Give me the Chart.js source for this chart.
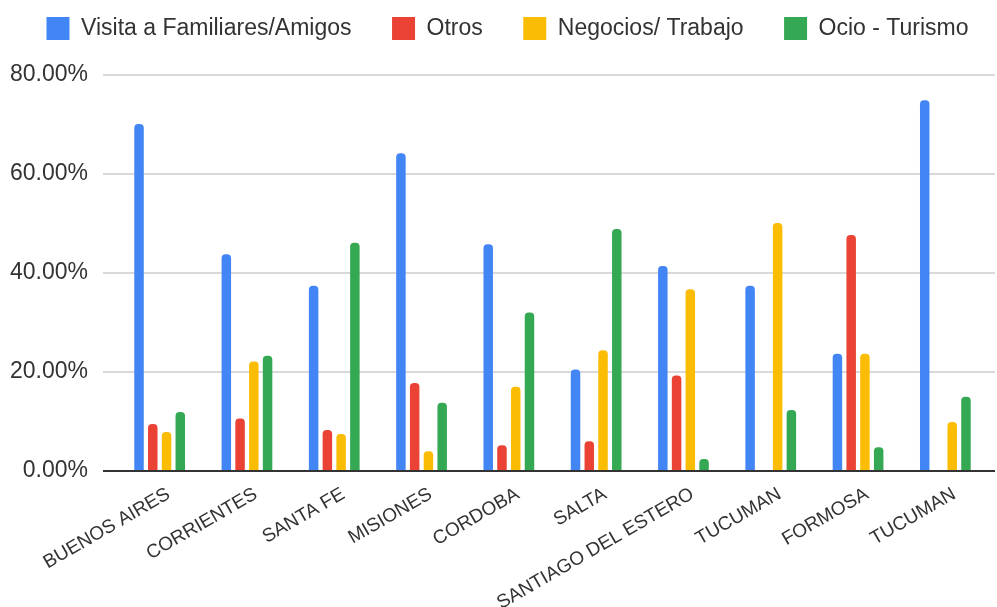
<!DOCTYPE html>
<html>
<head>
<meta charset="utf-8">
<script src="https://cdn.jsdelivr.net/npm/chart.js@4.4.1/dist/chart.umd.min.js"></script>
<style>
    html, body { margin: 0; padding: 0; background: #fff; }
    #wrap { width: 997px; height: 607px; }
</style>
</head>
<body>
<div id="wrap"><canvas id="motivoChart" width="997" height="607"></canvas></div>
<script>
const provincias = ['BUENOS AIRES', 'CORRIENTES', 'SANTA FE', 'MISIONES', 'CORDOBA', 'SALTA', 'SANTIAGO DEL ESTERO', 'TUCUMAN', 'FORMOSA', 'TUCUMAN']
const visitaFamiliares = [70.1, 43.8, 37.4, 64.2, 45.8, 20.5, 41.4, 37.4, 23.7, 74.9]
const otros = [9.5, 10.6, 8.3, 17.8, 5.2, 6.0, 19.3, 0, 47.7, 0]
const negocios = [7.9, 22.1, 7.5, 4.0, 17.0, 24.4, 36.7, 50.1, 23.7, 9.9]
const ocioTurismo = [11.9, 23.3, 46.1, 13.8, 32.0, 48.9, 2.4, 12.3, 4.8, 15.0]
const yTicks = [0, 20, 40, 60, 80]

const FONT = 'Arial, "Liberation Sans", sans-serif'

// horizontal grid lines run a bit wider than the category area
const gridLines = {
    id: 'gridLines',
    beforeDatasetsDraw(chart) {
        const { ctx, chartArea, scales } = chart
        ctx.save()
        ctx.strokeStyle = '#cccccc'
        ctx.lineWidth = 1.5
        yTicks.forEach((v) => {
            if (v === 0) return
            const py = scales.y.getPixelForValue(v)
            ctx.beginPath()
            ctx.moveTo(chartArea.left - 13, py)
            ctx.lineTo(chartArea.right + 6, py)
            ctx.stroke()
        })
        ctx.restore()
    },
    afterDatasetsDraw(chart) {
        const { ctx, chartArea, scales } = chart
        const py = scales.y.getPixelForValue(0)
        ctx.save()
        ctx.strokeStyle = '#333333'
        ctx.lineWidth = 2
        ctx.beginPath()
        ctx.moveTo(chartArea.left - 13, py)
        ctx.lineTo(chartArea.right + 6, py)
        ctx.stroke()
        ctx.restore()
    },
}

// fixed legend height, keep it on one row and widen its box a little
const legendBox = {
    id: 'legendBox',
    beforeInit(chart) {
        const fit = chart.legend.fit
        chart.legend.fit = function () {
            this.maxWidth += 30
            fit.call(this)
            this.height = 95
        }
    },
    afterLayout(chart) {
        chart.legend.left = 5
        chart.legend.right = 1010
        chart.legend.top = -23.5
    },
}

function makeSet(label, values, color) {
    return {
        label: label,
        data: values,
        backgroundColor: color,
        borderRadius: 4,
        borderSkipped: 'start',
        categoryPercentage: 0.63,
        barPercentage: 0.69,
    }
}

const config = {
    type: 'bar',
    data: {
        labels: provincias,
        datasets: [
            makeSet('Visita a Familiares/Amigos', visitaFamiliares, '#4285F4'),
            makeSet('Otros', otros, '#EA4335'),
            makeSet('Negocios/ Trabajo', negocios, '#FBBC04'),
            makeSet('Ocio - Turismo', ocioTurismo, '#34A853'),
        ],
    },
    options: {
        responsive: false,
        animation: false,
        layout: {
            padding: { top: -20, left: 0, right: 8, bottom: 0 },
        },
        scales: {
            x: {
                grid: { display: false },
                border: { display: false },
                ticks: {
                    color: '#333333',
                    font: { family: FONT, size: 19 },
                    minRotation: 30,
                    maxRotation: 30,
                    autoSkip: false,
                    padding: 4,
                    labelOffset: 9,
                },
                afterFit(scale) {
                    scale.height = 136
                },
            },
            y: {
                min: 0,
                max: 80,
                grid: { display: false, drawTicks: false },
                border: { display: false },
                ticks: {
                    stepSize: 20,
                    color: '#333333',
                    font: { family: FONT, size: 23 },
                    padding: 28,
                    callback: (v) => v.toFixed(2) + '%',
                },
                afterFit(scale) {
                    scale.width = 116
                },
            },
        },
        plugins: {
            legend: {
                display: true,
                position: 'top',
                labels: {
                    boxWidth: 23,
                    boxHeight: 23,
                    padding: 40.5,
                    color: '#333333',
                    font: { family: FONT, size: 23 },
                },
            },
            tooltip: { enabled: false },
        },
    },
    plugins: [gridLines, legendBox],
}

new Chart(document.getElementById('motivoChart').getContext('2d'), config)
</script>
</body>
</html>
